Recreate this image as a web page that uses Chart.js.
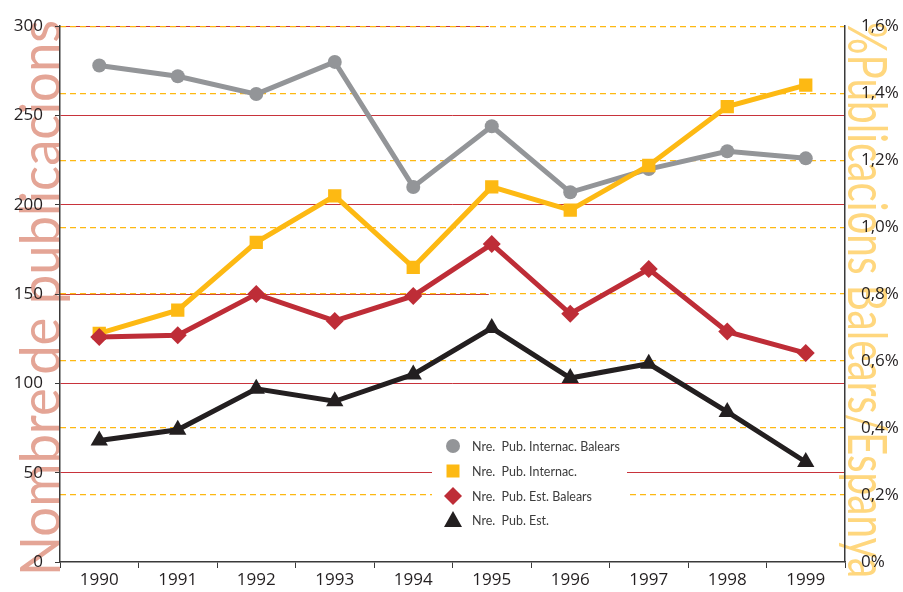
<!DOCTYPE html>
<html>
<head>
<meta charset="utf-8">
<title>Nombre de publicacions</title>
<script src="https://cdn.jsdelivr.net/npm/chart.js@4.4.1/dist/chart.umd.min.js"></script>
<style>
  html, body { margin: 0; padding: 0; background: #fff; }
  #pubChart { display: block; }
</style>
</head>
<body>
<canvas id="pubChart" width="903" height="592"></canvas>
<script>
// ====================== DATA ======================
const years = ["1990", "1991", "1992", "1993", "1994", "1995", "1996", "1997", "1998", "1999"];
const pubInternacBalears = [278, 272, 262, 280, 210, 244, 207, 220, 230, 226];
const pubInternac = [128, 141, 179, 205, 165, 210, 197, 222, 255, 267];
const pubEstBalears = [126, 127, 150, 135, 149, 178, 139, 164, 129, 117];
const pubEst = [68, 74, 97, 90, 105, 131, 103, 111, 84, 56];

const seriesLabels = [
    "Nre.  Pub. Internac. Balears",
    "Nre.  Pub. Internac.",
    "Nre.  Pub. Est. Balears",
    "Nre.  Pub. Est."
];
const leftTitle = "Nombre de publicacions";
const rightTitle = "%Publicacions Balears/Espanya";

// ====================== STYLE ======================
const GRAY = "#939598";
const YELLOW = "#FDB913";
const RED = "#BE2D37";
const BLACK = "#231F20";
const GRID_RED = "#C8333B";
const AXIS = "#3a3a3a";
const TICK_FONT = { family: "'Open Sans', sans-serif", size: 17 };

// fit a string into a given length by scaling the font
function fitFont(ctx, text, weight, family, length) {
    ctx.font = `${weight} 100px ${family}`;
    const size = 100 * length / ctx.measureText(text).width;
    ctx.font = `${weight} ${size}px ${family}`;
}

// draw a title with a fixed letter height, squeezed along its length
function drawSqueezed(ctx, text, size, length) {
    ctx.font = `400 ${size}px Lato, sans-serif`;
    const w = ctx.measureText(text).width;
    ctx.scale(length / w, 1);
    ctx.fillText(text, 0, 0);
}

// big axis titles + the short red lines at 150 / 300
const backdrop = {
    id: "backdrop",
    beforeDraw(chart) {
        const { ctx, chartArea, scales } = chart;
        ctx.save();

        ctx.strokeStyle = GRID_RED;
        ctx.lineWidth = 1;
        const xEnd = scales.x.getPixelForValue(5) - 3;
        [150, 300].forEach(v => {
            const y = Math.round(scales.y.getPixelForValue(v)) + 0.5;
            ctx.beginPath();
            ctx.moveTo(chartArea.left, y);
            ctx.lineTo(xEnd, y);
            ctx.stroke();
        });

        ctx.textAlign = "left";
        ctx.textBaseline = "alphabetic";

        // left title, reads bottom to top
        ctx.save();
        ctx.fillStyle = "#E4A596";
        ctx.translate(chartArea.left, 576);
        ctx.rotate(-Math.PI / 2);
        drawSqueezed(ctx, leftTitle, 57, 556);
        ctx.restore();

        // right title, reads top to bottom
        ctx.save();
        ctx.fillStyle = "#FFD77E";
        ctx.translate(chartArea.right + 3, 22);
        ctx.rotate(Math.PI / 2);
        drawSqueezed(ctx, rightTitle, 55, 556);
        ctx.restore();

        ctx.restore();
    }
};

// legend box inside the plot
function drawMarker(ctx, style, x, y) {
    ctx.beginPath();
    if (style === "circle") {
        ctx.arc(x, y, 7, 0, Math.PI * 2);
    } else if (style === "rect") {
        ctx.rect(x - 6.5, y - 6.5, 13, 13);
    } else if (style === "rectRot") {
        ctx.moveTo(x, y - 9); ctx.lineTo(x + 9, y); ctx.lineTo(x, y + 9); ctx.lineTo(x - 9, y);
    } else {
        ctx.moveTo(x, y - 9); ctx.lineTo(x + 9, y + 7); ctx.lineTo(x - 9, y + 7);
    }
    ctx.closePath();
    ctx.fill();
}

const boxLegend = {
    id: "boxLegend",
    beforeDatasetsDraw(chart) {
        const { ctx } = chart;
        const styles = ["circle", "rect", "rectRot", "triangle"];
        const colors = [GRAY, YELLOW, RED, BLACK];
        const rows = [446, 471, 496, 520];
        ctx.save();
        ctx.fillStyle = "#fff";
        ctx.fillRect(432, 433, 195, 98);
        fitFont(ctx, seriesLabels[0], 400, "Lato, sans-serif", 148);
        ctx.textBaseline = "middle";
        ctx.textAlign = "left";
        seriesLabels.forEach((label, i) => {
            ctx.fillStyle = colors[i];
            drawMarker(ctx, styles[i], 453, rows[i]);
            ctx.fillStyle = "#3c3c3c";
            ctx.fillText(label, 472, rows[i] + 1);
        });
        ctx.restore();
    }
};

// ====================== CHART ======================
function makeSet(label, data, color, style, radius, order) {
    return {
        label, data, order,
        yAxisID: "y",
        borderColor: color,
        backgroundColor: color,
        borderWidth: 5,
        tension: 0,
        pointStyle: style,
        pointRadius: radius,
        pointBorderWidth: 0,
        pointBackgroundColor: color
    };
}

const ctx = document.getElementById("pubChart").getContext("2d");
new Chart(ctx, {
    type: "line",
    data: {
        labels: years,
        datasets: [
            makeSet(seriesLabels[0], pubInternacBalears, GRAY, "circle", 7, 3),
            makeSet(seriesLabels[1], pubInternac, YELLOW, "rect", 9.4, 2),
            makeSet(seriesLabels[2], pubEstBalears, RED, "rectRot", 9, 1),
            makeSet(seriesLabels[3], pubEst, BLACK, "triangle", 10, 0)
        ]
    },
    options: {
        responsive: false,
        animation: false,
        layout: { padding: { top: 24, left: 0, right: 0, bottom: 0 } },
        plugins: {
            legend: { display: false },
            tooltip: { enabled: false }
        },
        scales: {
            x: {
                type: "category",
                offset: true,
                afterFit: s => { s.height = 30; },
                grid: { offset: true, drawOnChartArea: false, tickLength: 6, color: AXIS },
                border: { color: AXIS, width: 1.5 },
                ticks: { color: BLACK, font: TICK_FONT, padding: 2, maxRotation: 0 }
            },
            y: {
                position: "left",
                min: 0,
                max: 300,
                afterFit: s => { s.width = 60; },
                grid: {
                    color: c => [0, 150, 300].includes(c.tick && c.tick.value) ? "rgba(0,0,0,0)" : GRID_RED,
                    tickColor: AXIS,
                    tickLength: 5,
                    lineWidth: 1
                },
                border: { color: AXIS, width: 1.5 },
                ticks: { stepSize: 50, color: BLACK, font: TICK_FONT, padding: 12 }
            },
            y1: {
                position: "right",
                min: 0,
                max: 1.6,
                afterFit: s => { s.width = 58; },
                grid: {
                    color: c => (c.tick && Math.abs(c.tick.value) < 1e-9) ? "rgba(0,0,0,0)" : YELLOW,
                    lineWidth: 1.2,
                    drawTicks: false
                },
                border: { color: AXIS, width: 1.5, dash: [6, 4] },
                ticks: {
                    stepSize: 0.2,
                    color: BLACK,
                    font: TICK_FONT,
                    padding: 16,
                    callback: v => Math.abs(v) < 1e-9 ? "0%" : v.toFixed(1).replace(".", ",") + "%"
                }
            }
        }
    },
    plugins: [backdrop, boxLegend]
});
</script>
</body>
</html>
